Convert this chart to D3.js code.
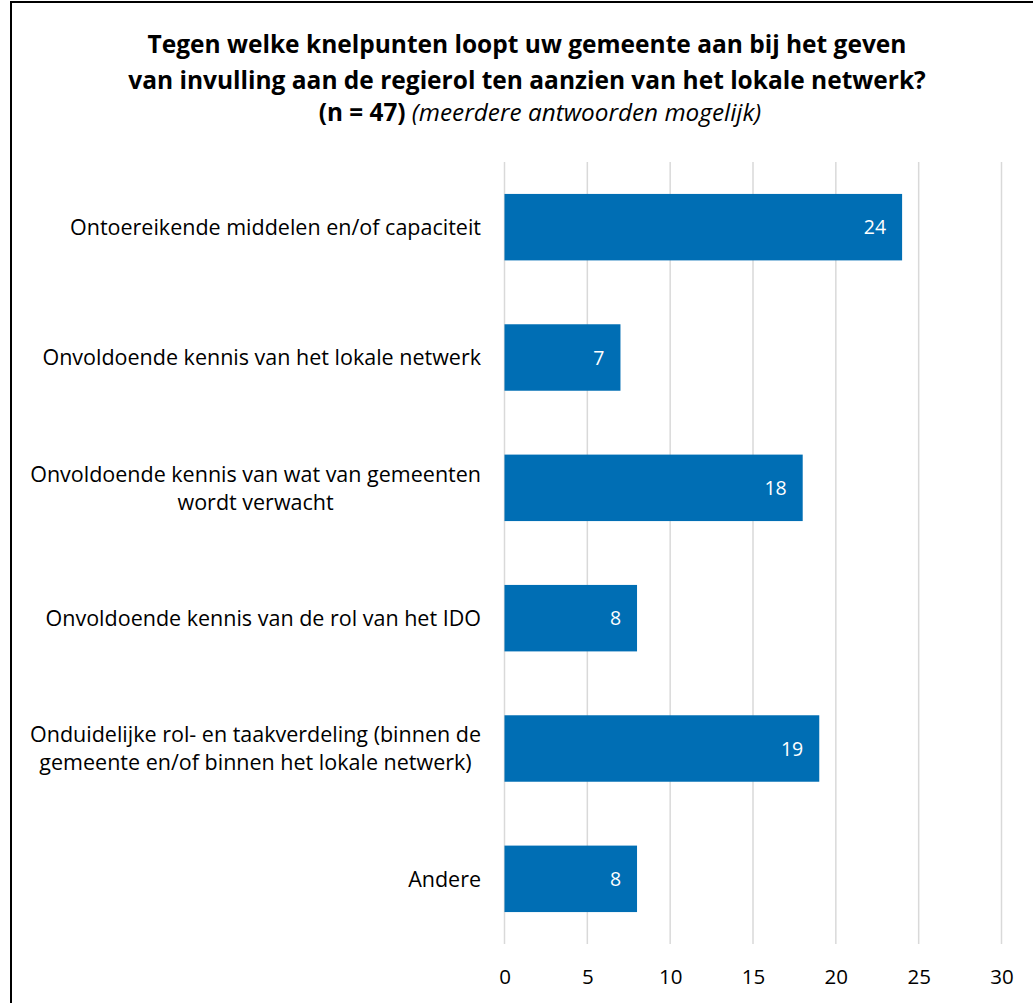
<!DOCTYPE html>
<html>
<head>
<meta charset="utf-8">
<script src="https://cdn.jsdelivr.net/npm/d3@7"></script>
<style>
  html, body { margin: 0; padding: 0; background: #fff; }
  svg { display: block; }
  text { font-family: "Open Sans", "Noto Sans", sans-serif; }
</style>
</head>
<body>
<svg id="chart" width="1033" height="1003"></svg>
<script>
// Knelpunten bij de regierol (aantal gemeenten, meerdere antwoorden mogelijk)
const categories = [
  ["Ontoereikende middelen en/of capaciteit"],
  ["Onvoldoende kennis van het lokale netwerk"],
  ["Onvoldoende kennis van wat van gemeenten", "wordt verwacht"],
  ["Onvoldoende kennis van de rol van het IDO"],
  ["Onduidelijke rol- en taakverdeling (binnen de", "gemeente en/of binnen het lokale netwerk)"],
  ["Andere"]
];
const values = [24, 7, 18, 8, 19, 8];
const xTicks = [0, 5, 10, 15, 20, 25, 30];
const titleLines = [
  "Tegen welke knelpunten loopt uw gemeente aan bij het geven",
  "van invulling aan de regierol ten aanzien van het lokale netwerk?"
];

const svg = d3.select("#chart");
const barColor = "#006EB4";
const gridColor = "#d9d9d9";

// frame
svg.append("rect")
  .attr("x", 11).attr("y", 2)
  .attr("width", 1040).attr("height", 1020)
  .attr("fill", "none").attr("stroke", "#000").attr("stroke-width", 2);

// title
const title = svg.append("g");
titleLines.forEach((t, i) => {
  title.append("text")
    .attr("x", 527).attr("y", 53 + i * 36)
    .attr("text-anchor", "middle")
    .attr("font-size", 24.5).attr("font-weight", "bold")
    .attr("fill", "#000")
    .text(t);
});
const sub = title.append("text")
  .attr("x", 540).attr("y", 121)
  .attr("text-anchor", "middle")
  .attr("font-size", 24.3).attr("fill", "#000");
sub.append("tspan").attr("font-weight", "bold").text("(n = 47)");
sub.append("tspan").attr("font-style", "italic").attr("font-weight", "normal").text(" (meerdere antwoorden mogelijk)");

// scales
const x = d3.scaleLinear().domain([0, 30]).range([504.5, 1001.5]);
const y = d3.scaleBand()
  .domain(d3.range(categories.length))
  .range([162, 944])
  .paddingInner(0.49)
  .paddingOuter(0.245);

// gridlines
svg.append("g")
  .selectAll("line")
  .data(xTicks)
  .join("line")
  .attr("x1", d => x(d)).attr("x2", d => x(d))
  .attr("y1", 162).attr("y2", 944)
  .attr("stroke", gridColor).attr("stroke-width", 1.5);

// bars
svg.append("g")
  .selectAll("rect")
  .data(values)
  .join("rect")
  .attr("x", x(0))
  .attr("y", (d, i) => y(i))
  .attr("width", d => x(d) - x(0))
  .attr("height", y.bandwidth())
  .attr("fill", barColor);

// value labels
svg.append("g")
  .selectAll("text")
  .data(values)
  .join("text")
  .attr("x", d => x(d) - 16)
  .attr("y", (d, i) => y(i) + y.bandwidth() / 2)
  .attr("dy", "0.36em")
  .attr("text-anchor", "end")
  .attr("font-size", 19.5)
  .attr("fill", "#fff")
  .text(d => d);

// x axis tick labels
const xAxis = d3.axisBottom(x).tickValues(xTicks).tickSize(0).tickPadding(0);
const gx = svg.append("g").attr("transform", "translate(0,969)").call(xAxis);
gx.select(".domain").remove();
gx.selectAll("text")
  .attr("font-size", 20.5)
  .attr("fill", "#000")
  .style("font-family", "'Open Sans', 'Noto Sans', sans-serif");

// category labels: multi-line labels are centred on each other, block right-aligned
const labelRight = 481;
const lineH = 28;
const labels = svg.append("g");
categories.forEach((lines, i) => {
  const g = labels.append("g");
  const cy = y(i) + y.bandwidth() / 2;
  const texts = lines.map((l, j) => g.append("text")
    .attr("font-size", 21.5)
    .attr("fill", "#000")
    .attr("y", cy + (j - (lines.length - 1) / 2) * lineH)
    .attr("dy", "0.36em")
    .text(l));
  const w = d3.max(texts, t => t.node().getComputedTextLength());
  texts.forEach(t => t.attr("text-anchor", "middle").attr("x", labelRight - w / 2));
});
</script>
</body>
</html>
